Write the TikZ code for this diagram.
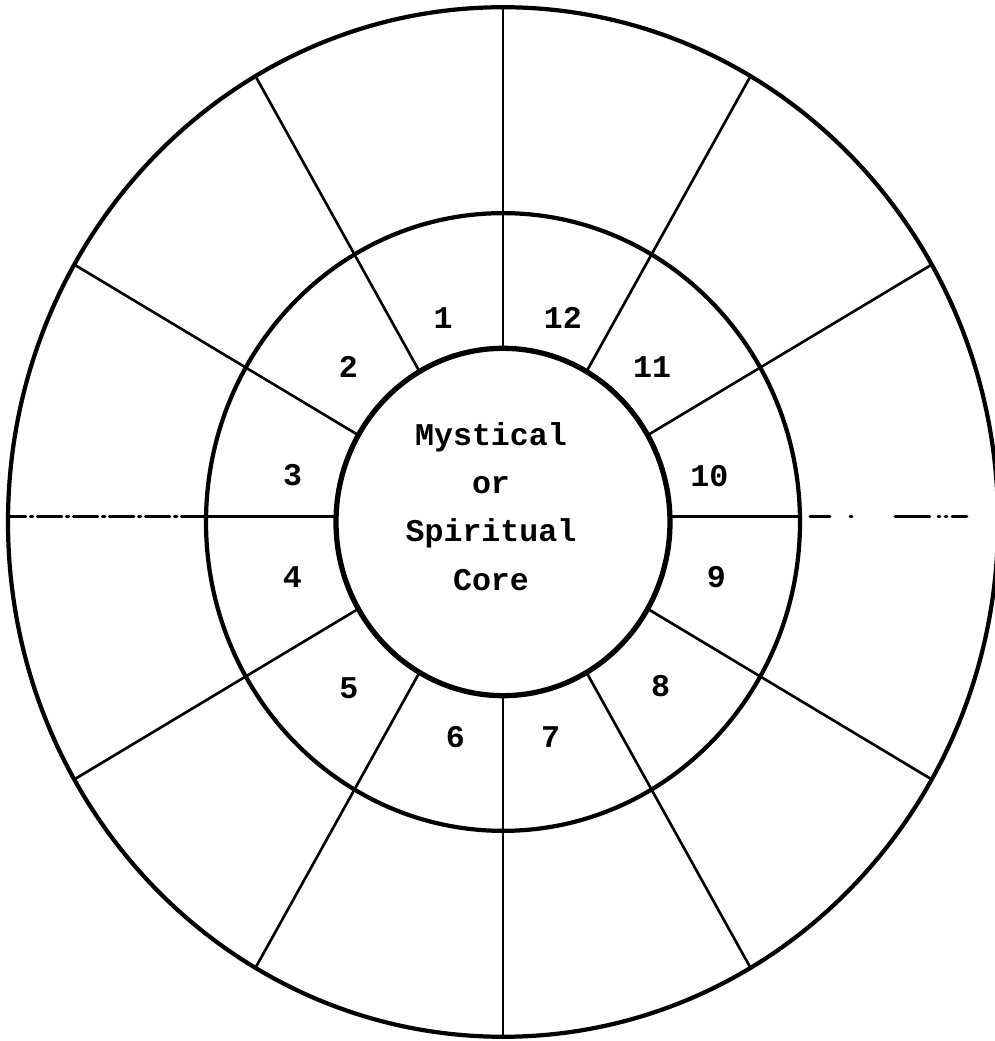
\documentclass[tikz,border=0pt]{standalone}
\usepackage{fontspec}
\newfontfamily\typewriter{Liberation Mono}
\usetikzlibrary{calc}

\tikzset{
  ring/.style={line width=2.4pt},
  spoke/.style={line width=1.5pt},
  sector/.style={font=\typewriter\bfseries\fontsize{18}{27.5}\selectfont, inner sep=0pt},
}

\begin{document}
\begin{tikzpicture}[x=0.2mm, y=0.208mm, line cap=round]
        \useasboundingbox (-100.6mm,-103.8mm) rectangle (98.4mm,104.4mm);
        % Rings
        \draw[ring] (0,0) circle (495);
        \draw[ring] (0,0) circle (297);
        \draw[ring, line width=3pt] (0,0) circle (167);
        % Spokes
        \foreach \a in {30,60,90,120,150,210,240,270,300,330}{
          \draw[spoke] (\a:167) -- (\a:495);
        }
        \draw[spoke] (-167,5) -- (-297,5);
        \draw[spoke, dash pattern=on 14pt off 2.5pt on 1.5pt off 2.5pt] (-297,5) -- (-495,5);
        \draw[spoke] (167,5) -- (297,5);
        \draw[spoke, dash pattern=on 0pt off 2mm on 4mm off 4mm on 0.4mm off 8.6mm on 7mm off 1.6mm on 0.4mm off 1mm on 0.4mm off 1mm on 3mm off 9mm] (297,5) -- (495,5);
        % Sector numbers
        \foreach \n/\a/\r in {1/107/205, 2/136/215, 3/168/215, 4/194/217,
                              5/226/222, 6/257/212, 7/283/212, 8/315/223,
                              9/346/220, 10/12/211, 11/45/211, 12/73/205}{
          \node[sector] (n\n) at (\a:\r) {\n};
        }
        \node[sector, align=center] (core) at (-12,15) {Mystical\\or\\Spiritual\\Core};
      \end{tikzpicture}
\end{document}
